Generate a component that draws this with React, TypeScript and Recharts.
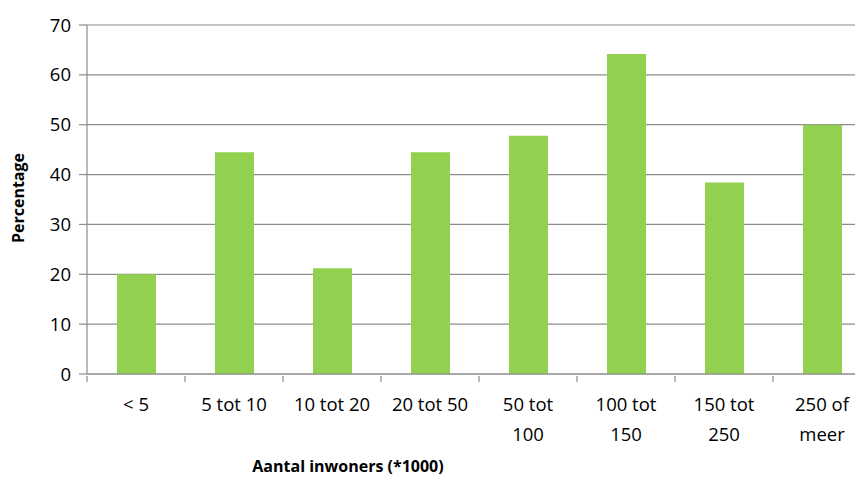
import React from "react";
import { BarChart, Bar, XAxis, YAxis, CartesianGrid, Label } from "recharts";

const categories = ["< 5", "5 tot 10", "10 tot 20", "20 tot 50", "50 tot 100", "100 tot 150", "150 tot 250", "250 of meer"];
const tickLines: string[][] = [["< 5"], ["5 tot 10"], ["10 tot 20"], ["20 tot 50"], ["50 tot", "100"], ["100 tot", "150"], ["150 tot", "250"], ["250 of", "meer"]];
const percentages = [20.0, 44.5, 21.2, 44.5, 47.8, 64.2, 38.4, 50.0];
const yTicks = [0, 10, 20, 30, 40, 50, 60, 70];

const data = categories.map((c, i) => ({ cat: c, value: percentages[i] }));

const FONT = "'Open Sans', sans-serif";
const AXIS = "#8c8c8c";

const CatTick = (props: any) => {
  const { x, y, index, payload } = props;
  const lines = tickLines[index] || [];
  const half = payload && payload.offset ? payload.offset : 0;
  const axisY = y - 8;
  return (
    <g>
      {half > 0 && <line x1={x - half} x2={x - half} y1={axisY} y2={axisY + 6} stroke={AXIS} strokeWidth={1.2} />}
      {half > 0 && index === categories.length - 1 && (
        <line x1={x + half} x2={x + half} y1={axisY} y2={axisY + 6} stroke={AXIS} strokeWidth={1.2} />
      )}
      {lines.map((l, k) => (
        <text key={k} x={x} y={axisY + 30 + k * 30} textAnchor="middle" fill="#000" fontSize={18.5} fontFamily={FONT} dominantBaseline="middle">
          {l}
        </text>
      ))}
    </g>
  );
};

export default function App() {
  return (
    <div style={{ width: 855, height: 471, overflow: "hidden" }}>
      <BarChart width={863} height={471} data={data} margin={{ top: 17, right: 0, left: 0, bottom: 45 }} barSize={39}>
        <CartesianGrid vertical={false} stroke={AXIS} strokeWidth={1.2} />
        <XAxis dataKey="cat" tickLine={false} tickSize={8} axisLine={{ stroke: AXIS, strokeWidth: 1.2 }} tick={<CatTick />} interval={0} height={60}>
          <Label content={() => (
            <text x={340} y={460} textAnchor="middle" fontSize={16} fontWeight="bold" fontFamily={FONT} fill="#000" dominantBaseline="middle">
              Aantal inwoners (*1000)
            </text>
          )} />
        </XAxis>
        <YAxis domain={[0, 70]} ticks={yTicks} width={79} tickSize={8} tickLine={{ stroke: AXIS, strokeWidth: 1.2 }} axisLine={{ stroke: AXIS, strokeWidth: 1.2 }} tick={{ fill: "#000", fontSize: 18.5, fontFamily: FONT }} tickMargin={8} interval={0}>
          <Label content={() => (
            <text x={12} y={190} transform="rotate(-90 12 190)" textAnchor="middle" fontSize={16} fontWeight="bold" fontFamily={FONT} fill="#000" dominantBaseline="middle">
              Percentage
            </text>
          )} />
        </YAxis>
        <Bar dataKey="value" fill="#92D050" isAnimationActive={false} />
      </BarChart>
    </div>
  );
}
